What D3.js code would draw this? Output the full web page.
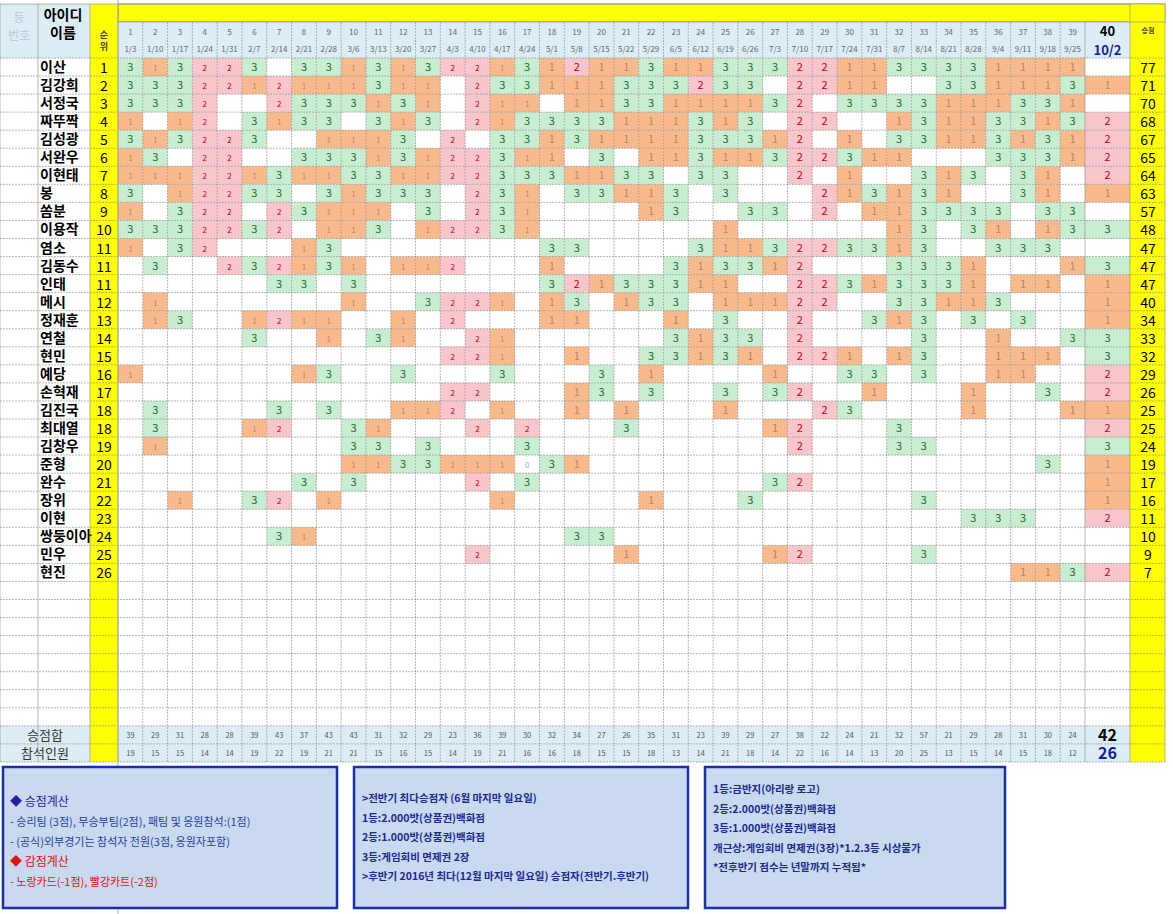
<!DOCTYPE html>
<html><head><meta charset="utf-8">
<script src="https://cdn.jsdelivr.net/npm/d3@7"></script>
<style>body{margin:0;background:#fff}svg{display:block;font-family:"Noto Sans CJK KR",sans-serif}</style>
</head><body><svg id="c" width="1173" height="914"></svg>
<script>
const dates=["1/3","1/10","1/17","1/24","1/31","2/7","2/14","2/21","2/28","3/6","3/13","3/20","3/27","4/3","4/10","4/17","4/24","5/1","5/8","5/15","5/22","5/29","6/5","6/12","6/19","6/26","7/3","7/10","7/17","7/24","7/31","8/7","8/14","8/21","8/28","9/4","9/11","9/18","9/25","10/2"];
const names=["이산","김강희","서정국","짜뚜짝","김성광","서완우","이현태","봉","쏨분","이용작","염소","김동수","인태","메시","정재훈","연철","현민","예당","손혁재","김진국","최대열","김창우","준형","완수","장위","이현","쌍둥이아","민우","현진"];
const ranks=[1,2,3,4,5,6,7,8,9,10,11,11,11,12,13,14,15,16,17,18,18,19,20,21,22,23,24,25,26];
const totals=[77,71,70,68,67,65,64,63,57,48,47,47,47,40,34,33,32,29,26,25,25,24,19,17,16,11,10,9,7];
const S=[
["3","1","3","2","2","3","","3","3","1","3","1","3","2","2","1","3","1","2","1","1","3","1","1","3","3","3","2","2","1","1","3","3","3","3","1","1","1","1",""],
["3","3","3","2","2","1","2","1","1","1","3","1","1","","2","3","3","1","1","1","3","3","3","2","3","3","","2","2","1","1","","","3","3","1","1","1","3","1"],
["3","3","3","2","","","2","3","3","3","1","3","1","","2","1","1","","1","1","3","3","1","1","1","1","3","2","","3","3","3","3","1","1","1","3","3","1",""],
["1","","1","2","","3","1","3","3","","3","1","3","","2","1","3","3","3","3","1","1","1","3","1","3","","2","2","","","1","3","1","1","3","3","1","3","2"],
["3","1","3","2","2","3","","","1","1","1","3","","2","","3","3","1","3","1","1","1","1","3","3","3","1","2","","1","","3","3","1","1","3","1","3","1","2"],
["1","3","","2","2","","","3","3","3","1","3","1","2","2","3","1","1","","3","","1","1","3","1","1","3","2","2","3","1","1","","","","3","3","3","1","2"],
["1","1","1","2","2","1","3","1","1","3","3","1","1","2","2","3","3","3","1","1","3","3","","3","3","","","2","","1","","","3","1","3","","3","1","","2"],
["3","","1","2","2","3","3","","3","1","3","3","3","","2","3","1","","3","3","1","1","3","","3","","","","2","1","3","1","3","1","","","3","1","","1"],
["1","","3","2","2","","2","3","1","1","1","","3","","2","3","1","","","","","1","3","","","3","3","","2","","1","1","3","3","3","3","","3","3",""],
["3","3","3","2","2","3","2","","1","1","3","","1","2","2","3","1","","","","","","","","1","","","","","","","1","3","","3","1","","1","3","3"],
["1","","3","2","","","","1","3","","","","","","","","","3","3","","","","","3","1","1","3","2","2","3","3","1","3","","","3","3","3","",""],
["","3","","","2","3","2","1","3","1","","1","1","2","","","","1","","","","","3","1","3","3","1","2","","","","3","3","3","1","","","","1","3"],
["","","","","","","3","3","","3","","","","","","","","3","2","1","3","3","3","1","1","","","2","2","3","1","3","3","3","1","","1","1","","1"],
["","1","","","","","","","","1","","","3","2","2","1","","1","3","","1","3","3","","1","1","1","2","2","","","3","3","1","1","3","","","","1"],
["","1","3","","","1","2","1","1","","","1","","2","","","","1","1","","","","1","","3","","","2","","","3","1","3","","3","","3","","","1"],
["","","","","","3","","","1","","3","1","","","2","1","","","","","","","3","1","3","3","","2","","","","","3","","","1","","","3","3"],
["","","","","","","","","","","","","","2","2","1","","","1","","","3","3","1","3","1","","2","2","1","","1","3","","","1","1","1","","3"],
["1","","","","","","","1","3","","","3","","","","3","","","","3","","1","","","","","1","","","3","3","","3","","","1","1","","","2"],
["","","","","","","","","","","","","","2","2","","","","1","3","","3","","","3","","3","2","","","1","","","","1","","","3","","2"],
["","3","","","","","3","","3","","","1","1","2","","1","","","1","","1","","","","1","","","","2","3","","","","","1","","","","1","1"],
["","3","","","","1","2","","","3","1","","","","2","","2","","","","3","","","","","","1","2","","","","3","","","","","","","","2"],
["","1","","","","","","","","3","3","","3","","","","3","","","","","","","","","","","2","","","","3","3","","","","","","","3"],
["","","","","","","","","","1","1","3","3","1","1","1","0","3","1","","","","","","","","","","","","","","","","","","","3","","1"],
["","","","","","","","3","","3","","","","","2","","3","","","","","","","","","","3","2","","","","","","","","","","","","1"],
["","","1","","","3","2","","1","","","","","","","1","","","","","","1","","","","3","","","","","","","3","","","","","","","1"],
["","","","","","","","","","","","","","","","","","","","","","","","","","","","","","","","","","","3","3","3","","","2"],
["","","","","","","3","1","","","","","","","","","","","3","3","","","","","","","","","","","","","","","","","","","",""],
["","","","","","","","","","","","","","","2","","","","","","1","","","","","","1","2","","","","","3","","","","","","",""],
["","","","","","","","","","","","","","","","","","","","","","","","","","","","","","","","","","","","","1","1","3","2"]
];
const weekSum=[39,29,31,28,28,39,43,37,43,43,31,32,29,23,36,39,30,32,34,27,26,35,31,23,39,29,27,38,22,24,21,32,57,21,29,28,31,30,24,42];
const weekCount=[19,15,15,14,14,19,22,19,21,21,15,16,15,14,19,21,16,16,18,15,15,18,13,14,21,18,14,22,16,14,13,20,25,13,15,14,15,18,12,26];
const box1=[["◆ 승점계산","#1f1fa0",true],["- 승리팀 (3점), 무승부팀(2점), 패팀 및 응원참석:(1점)","#1f3fa0",false],["- (공식)외부경기는 참석자 전원(3점, 응원자포함)","#1f3fa0",false],["◆ 감점계산","#e01010",true],["- 노랑카드(-1점), 빨강카트(-2점)","#e01010",false]];
const box2=[">전반기 최다승점자 (6월 마지막 일요일)","1등:2.000밧(상품권)백화점","2등:1.000밧(상품권)백화점","3등:게임회비 면제권 2장",">후반기 2016년 최다(12월 마지막 일요일) 승점자(전반기.후반기)"];
const box3=["1등:금반지(아리랑 로고)","2등:2.000밧(상품권)백화점","3등:1.000밧(상품권)백화점","개근상:게임회비 면제권(3장)*1.2.3등 시상불가","*전후반기 점수는 년말까지 누적됨*"];

const svg=d3.select("#c");
const X0=118,X39=1085,X40=1130,XT=1165,Y0=58,RH=18.05,NR=37;
const x=d3.scaleBand().domain(d3.range(39)).range([X0,X39]);
const xc=i=>i<39?x(i):X39;
const cw=i=>i<39?x.bandwidth():45;
const y=d3.scaleLinear().domain([0,NR]).range([Y0,Y0+NR*RH]);
const fill={"1":"#f8b98c","2":"#f9c6cc","3":"#c8edd0","0":"#fff"};
const tcol={"1":"#b08a6a","2":"#c00020","3":"#1a6b30","0":"#aaa"};
svg.append("rect").attr("x",X0).attr("y",4).attr("width",XT-X0).attr("height",18).attr("fill","#ffff00").attr("stroke","#999");
svg.append("rect").attr("x",0).attr("y",4).attr("width",X0).attr("height",Y0-4).attr("fill","#dcedf5");
svg.append("rect").attr("x",X0).attr("y",22).attr("width",X40-X0).attr("height",Y0-22).attr("fill","#dcedf5");
svg.append("rect").attr("x",90).attr("y",4).attr("width",28).attr("height",y(NR+2)-4).attr("fill","#ffff00");
svg.append("rect").attr("x",XT-35).attr("y",4).attr("width",35).attr("height",y(NR+2)-4).attr("fill","#ffff00");
svg.append("text").attr("x",19).attr("y",22).attr("text-anchor","middle").attr("font-size",12).attr("fill","#b8c8d8").text("등");
svg.append("text").attr("x",19).attr("y",40).attr("text-anchor","middle").attr("font-size",12).attr("fill","#b8c8d8").text("번호");
svg.append("text").attr("x",63).attr("y",20).attr("text-anchor","middle").attr("font-size",14).attr("font-weight","bold").text("아이디");
svg.append("text").attr("x",63).attr("y",38).attr("text-anchor","middle").attr("font-size",14).attr("font-weight","bold").text("이름");
svg.append("text").attr("x",104).attr("y",38).attr("text-anchor","middle").attr("font-size",9).attr("font-weight","bold").attr("fill","#444").text("순");
svg.append("text").attr("x",104).attr("y",50).attr("text-anchor","middle").attr("font-size",9).attr("font-weight","bold").attr("fill","#444").text("위");
svg.append("text").attr("x",XT-17).attr("y",33).attr("text-anchor","middle").attr("font-size",7).attr("font-weight","bold").attr("fill","#444").text("승점");
const hd=svg.append("g");
dates.forEach((d,i)=>{
  const cx=xc(i)+cw(i)/2;
  if(i<39){
    hd.append("text").attr("x",cx).attr("y",35).attr("text-anchor","middle").attr("font-size",8).attr("fill","#666").text(i+1);
    hd.append("text").attr("x",cx).attr("y",52).attr("text-anchor","middle").attr("font-size",8).attr("fill","#666").text(d);
  }else{
    hd.append("text").attr("x",cx).attr("y",36).attr("text-anchor","middle").attr("font-size",13).attr("font-weight","bold").text(i+1);
    hd.append("text").attr("x",cx).attr("y",55).attr("text-anchor","middle").attr("font-size",13).attr("font-weight","bold").attr("fill","#1a1aa0").text(d);
  }
});
const g=svg.append("g");
S.forEach((r,ri)=>{
  r.forEach((v,ci)=>{
    if(v==="")return;
    g.append("rect").attr("x",xc(ci)).attr("y",y(ri)).attr("width",cw(ci)).attr("height",RH).attr("fill",fill[v]);
    g.append("text").attr("x",xc(ci)+cw(ci)/2).attr("y",y(ri)+RH/2+4).attr("text-anchor","middle")
     .attr("font-size",ci<17&&v!=="3"?8:11).attr("fill",tcol[v]).text(v);
  });
  g.append("text").attr("x",40).attr("y",y(ri)+RH/2+5).attr("font-size",14).attr("font-weight","bold").text(names[ri]);
  g.append("text").attr("x",104).attr("y",y(ri)+RH/2+6).attr("text-anchor","middle").attr("font-size",14).text(ranks[ri]);
  g.append("text").attr("x",XT-17).attr("y",y(ri)+RH/2+6).attr("text-anchor","middle").attr("font-size",14).text(totals[ri]);
});
[["승점합",weekSum],["참석인원",weekCount]].forEach(([lab,arr],k)=>{
  const yy=y(NR+k);
  svg.append("rect").attr("x",0).attr("y",yy).attr("width",90).attr("height",RH).attr("fill","#dcedf5");
  svg.append("rect").attr("x",X0).attr("y",yy).attr("width",X40-X0).attr("height",RH).attr("fill","#dcedf5");
  svg.append("text").attr("x",45).attr("y",yy+14).attr("text-anchor","middle").attr("font-size",13).attr("fill","#333").text(lab);
  arr.forEach((v,i)=>{
    svg.append("text").attr("x",xc(i)+cw(i)/2).attr("y",yy+(i<39?12:15)).attr("text-anchor","middle")
      .attr("font-size",i<39?7.5:16).attr("font-weight",i<39?"normal":"bold").attr("fill",i<39?"#555":(k?"#1a1aa0":"#000")).text(v);
  });
});
const gl=svg.append("g").attr("stroke","#888").attr("stroke-width",0.6);
const vx=[0,38,90,X0].concat(d3.range(39).map(i=>x(i))).concat([X39,X40,XT]);
const yEnd=y(NR+2);
[...new Set(vx)].forEach(v=>gl.append("line").attr("x1",v).attr("x2",v).attr("y1",v>X0&&v<X40?22:4).attr("y2",yEnd).attr("stroke-dasharray",v>X0&&v<X39?"2,1":null));
d3.range(NR+3).forEach(k=>gl.append("line").attr("x1",0).attr("x2",XT).attr("y1",y(k)).attr("y2",y(k)).attr("stroke-dasharray","2,1"));
gl.append("line").attr("x1",0).attr("x2",XT).attr("y1",4).attr("y2",4);
gl.append("line").attr("x1",X0).attr("x2",XT).attr("y1",22).attr("y2",22);
svg.append("line").attr("x1",X0).attr("x2",X0).attr("y1",0).attr("y2",914).attr("stroke","#aaa");
function box(x0,w){
  svg.append("rect").attr("x",x0).attr("y",767).attr("width",w).attr("height",141).attr("fill","#c9d9f0").attr("stroke","#1a2fb0").attr("stroke-width",2.5);
}
box(3,334);box(354,334);box(705,300);
box1.forEach(([t,c,b],i)=>svg.append("text").attr("x",10).attr("y",806+i*20).attr("font-size",b?12:11).attr("fill",c).text(t));
box2.forEach((t,i)=>svg.append("text").attr("x",362).attr("y",802+i*19.5).attr("font-size",10.5).attr("font-weight","bold").attr("fill","#1a2a90").text(t));
box3.forEach((t,i)=>svg.append("text").attr("x",713).attr("y",793+i*19.5).attr("font-size",10.5).attr("font-weight","bold").attr("fill","#1a2a90").text(t));
</script></body></html>
